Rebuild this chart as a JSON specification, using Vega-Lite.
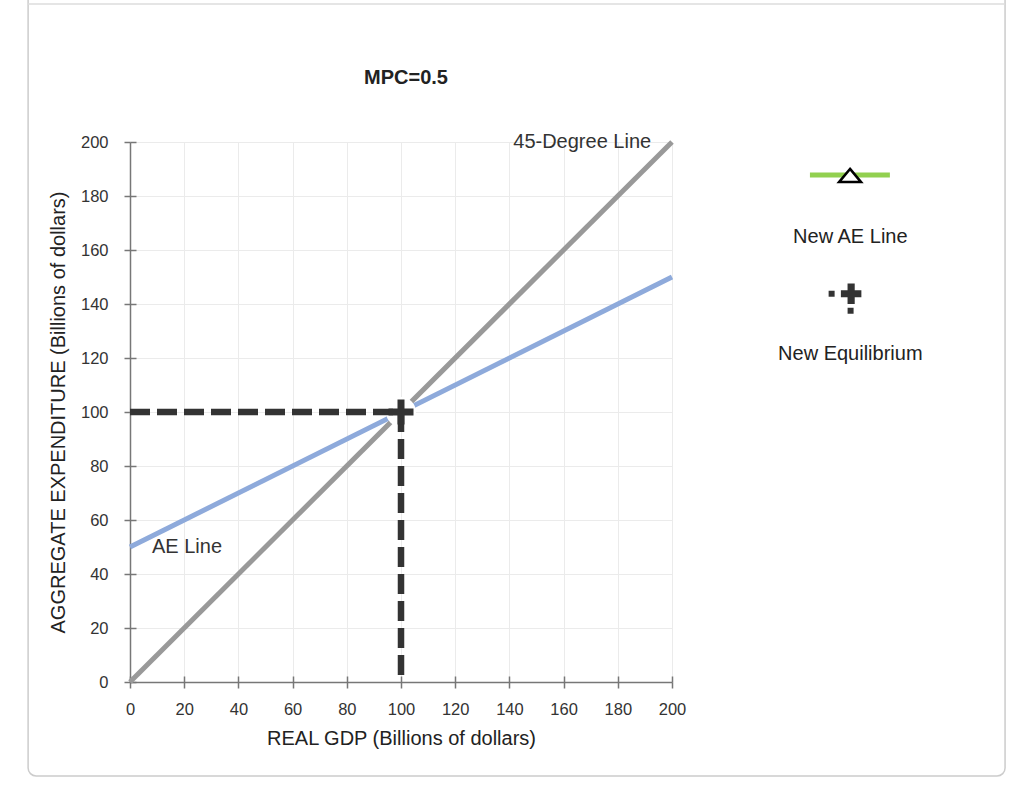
{
  "$schema": "https://vega.github.io/schema/vega-lite/v6.json",
  "width": 542,
  "height": 540,
  "autosize": {"type": "none"},
  "padding": {"left": 130, "top": 142, "right": 352, "bottom": 105},
  "background": "white",
  "title": {"text": "MPC=0.5", "font": "Liberation Sans", "fontSize": 20, "fontWeight": "bold", "color": "#222222", "offset": -98, "dx": 5, "frame": "group"},
  "config": {"view": {"stroke": null}, "font": "Liberation Sans"},
  "data": {"values": [{}]},
  "datasets": {
    "lines": [
      {"series": "45-Degree Line", "gdp": 0, "ae": 0},
      {"series": "45-Degree Line", "gdp": 200, "ae": 200},
      {"series": "AE Line", "gdp": 0, "ae": 50},
      {"series": "AE Line", "gdp": 200, "ae": 150},
      {"series": "Equilibrium expenditure", "gdp": 0, "ae": 100},
      {"series": "Equilibrium expenditure", "gdp": 100, "ae": 100},
      {"series": "Equilibrium GDP", "gdp": 100, "ae": 100},
      {"series": "Equilibrium GDP", "gdp": 100, "ae": 0}
    ],
    "equilibrium": [{"gdp": 100, "ae": 100}]
  },
  "layer": [
    {
      "layer": [
        {
          "mark": {"type": "rect", "filled": false, "stroke": "#cccccc", "strokeWidth": 1.5, "cornerRadius": 8, "clip": false},
          "encoding": {
            "x": {"datum": -37.6, "type": "quantitative", "scale": {"domain": [0, 200], "nice": false, "zero": false}},
            "x2": {"datum": 322.9},
            "y": {"datum": 256, "type": "quantitative", "scale": {"domain": [0, 200], "nice": false, "zero": false}},
            "y2": {"datum": -34.8}
          }
        },
        {
          "mark": {"type": "rule", "stroke": "#dddddd", "strokeWidth": 1.5, "clip": false},
          "encoding": {
            "x": {"datum": -37.6, "type": "quantitative", "scale": {"domain": [0, 200], "nice": false, "zero": false}},
            "x2": {"datum": 322.9},
            "y": {"datum": 251.1, "type": "quantitative", "scale": {"domain": [0, 200], "nice": false, "zero": false}}
          }
        },
        {
          "data": {"name": "lines"},
          "transform": [{"filter": "datum.series === '45-Degree Line' || datum.series === 'AE Line'"}],
          "mark": {"type": "line", "strokeWidth": 5, "strokeCap": "butt"},
          "encoding": {
            "x": {
              "field": "gdp", "type": "quantitative",
              "scale": {"domain": [0, 200], "nice": false, "zero": false},
              "axis": {
                "values": [0, 20, 40, 60, 80, 100, 120, 140, 160, 180, 200],
                "title": "REAL GDP (Billions of dollars)",
                "titleFont": "Liberation Sans", "titleFontSize": 20, "titleFontWeight": "normal", "titleColor": "#222222", "titlePadding": 11,
                "labelFont": "Liberation Sans", "labelFontSize": 16.5, "labelColor": "#333333", "labelPadding": 13,
                "labelFlush": false, "labelOverlap": false,
                "tickSize": 6, "tickColor": "#777777", "tickWidth": 1.5,
                "domainColor": "#777777", "domainWidth": 1.5,
                "grid": true, "gridColor": "#ebebeb", "gridWidth": 1
              }
            },
            "y": {
              "field": "ae", "type": "quantitative",
              "scale": {"domain": [0, 200], "nice": false, "zero": false},
              "axis": {
                "values": [0, 20, 40, 60, 80, 100, 120, 140, 160, 180, 200],
                "title": "AGGREGATE EXPENDITURE (Billions of dollars)",
                "titleFont": "Liberation Sans", "titleFontSize": 20, "titleFontWeight": "normal", "titleColor": "#222222", "titlePadding": 12,
                "labelFont": "Liberation Sans", "labelFontSize": 16.5, "labelColor": "#333333", "labelPadding": 16,
                "labelFlush": false, "labelOverlap": false,
                "tickSize": 6, "tickColor": "#777777", "tickWidth": 1.5,
                "domainColor": "#777777", "domainWidth": 1.5,
                "grid": true, "gridColor": "#ebebeb", "gridWidth": 1
              }
            },
            "color": {"field": "series", "type": "nominal", "scale": {"domain": ["45-Degree Line", "AE Line"], "range": ["#999999", "#8eaadb"]}, "legend": null},
            "order": {"value": null}
          }
        },
        {
          "data": {"name": "equilibrium"},
          "mark": {"type": "point", "shape": "circle", "filled": true, "color": "white", "opacity": 1, "size": 900, "strokeWidth": 0},
          "encoding": {
            "x": {"field": "gdp", "type": "quantitative", "scale": {"domain": [0, 200], "nice": false, "zero": false}},
            "y": {"field": "ae", "type": "quantitative", "scale": {"domain": [0, 200], "nice": false, "zero": false}}
          }
        },
        {
          "data": {"name": "lines"},
          "transform": [{"filter": "datum.series === 'Equilibrium expenditure' || datum.series === 'Equilibrium GDP'"}],
          "mark": {"type": "line", "strokeWidth": 6.5, "strokeDash": [20, 7], "strokeCap": "butt", "color": "#333333"},
          "encoding": {
            "x": {"field": "gdp", "type": "quantitative", "scale": {"domain": [0, 200], "nice": false, "zero": false}},
            "y": {"field": "ae", "type": "quantitative", "scale": {"domain": [0, 200], "nice": false, "zero": false}},
            "detail": {"field": "series", "type": "nominal"},
            "order": {"value": null}
          }
        },
        {
          "data": {"name": "equilibrium"},
          "mark": {"type": "point", "shape": "M-0.28,-1H0.28V-0.28H1V0.28H0.28V1H-0.28V0.28H-1V-0.28H-0.28Z", "filled": true, "color": "#333333", "opacity": 1, "size": 625, "strokeWidth": 0},
          "encoding": {
            "x": {"field": "gdp", "type": "quantitative", "scale": {"domain": [0, 200], "nice": false, "zero": false}},
            "y": {"field": "ae", "type": "quantitative", "scale": {"domain": [0, 200], "nice": false, "zero": false}}
          }
        },
        {
          "mark": {"type": "text", "text": "45-Degree Line", "align": "right", "baseline": "middle", "fontSize": 20, "color": "#333333", "font": "Liberation Sans"},
          "encoding": {
            "x": {"datum": 192.3, "type": "quantitative", "scale": {"domain": [0, 200], "nice": false, "zero": false}},
            "y": {"datum": 200, "type": "quantitative", "scale": {"domain": [0, 200], "nice": false, "zero": false}}
          }
        },
        {
          "mark": {"type": "text", "text": "AE Line", "align": "left", "baseline": "middle", "fontSize": 20, "color": "#333333", "font": "Liberation Sans"},
          "encoding": {
            "x": {"datum": 8.1, "type": "quantitative", "scale": {"domain": [0, 200], "nice": false, "zero": false}},
            "y": {"datum": 50, "type": "quantitative", "scale": {"domain": [0, 200], "nice": false, "zero": false}}
          }
        },
        {
          "mark": {"type": "rule", "stroke": "#92d050", "strokeWidth": 5, "clip": false},
          "encoding": {
            "x": {"datum": 250.9, "type": "quantitative", "scale": {"domain": [0, 200], "nice": false, "zero": false}},
            "x2": {"datum": 280.4},
            "y": {"datum": 187.8, "type": "quantitative", "scale": {"domain": [0, 200], "nice": false, "zero": false}}
          }
        },
        {
          "mark": {"type": "point", "shape": "M0,-0.6L1,0.6L-1,0.6Z", "fill": "white", "stroke": "black", "strokeWidth": 2.5, "opacity": 1, "size": 484, "clip": false},
          "encoding": {
            "x": {"datum": 265.7, "type": "quantitative", "scale": {"domain": [0, 200], "nice": false, "zero": false}},
            "y": {"datum": 187.6, "type": "quantitative", "scale": {"domain": [0, 200], "nice": false, "zero": false}}
          }
        },
        {
          "mark": {"type": "text", "text": "New AE Line", "align": "center", "baseline": "middle", "fontSize": 20, "color": "#222222", "font": "Liberation Sans", "clip": false},
          "encoding": {
            "x": {"datum": 265.8, "type": "quantitative", "scale": {"domain": [0, 200], "nice": false, "zero": false}},
            "y": {"datum": 164.8, "type": "quantitative", "scale": {"domain": [0, 200], "nice": false, "zero": false}}
          }
        },
        {
          "mark": {"type": "point", "shape": "M-0.35,-1H0.35V-0.35H1V0.35H0.35V1H-0.35V0.35H-1V-0.35H-0.35Z", "filled": true, "color": "#333333", "opacity": 1, "size": 420, "strokeWidth": 0, "clip": false},
          "encoding": {
            "x": {"datum": 266.1, "type": "quantitative", "scale": {"domain": [0, 200], "nice": false, "zero": false}},
            "y": {"datum": 143.8, "type": "quantitative", "scale": {"domain": [0, 200], "nice": false, "zero": false}}
          }
        },
        {
          "mark": {"type": "point", "shape": "square", "filled": true, "color": "#333333", "opacity": 1, "size": 36, "strokeWidth": 0, "clip": false},
          "encoding": {
            "x": {"datum": 258.9, "type": "quantitative", "scale": {"domain": [0, 200], "nice": false, "zero": false}},
            "y": {"datum": 143.8, "type": "quantitative", "scale": {"domain": [0, 200], "nice": false, "zero": false}}
          }
        },
        {
          "mark": {"type": "point", "shape": "square", "filled": true, "color": "#333333", "opacity": 1, "size": 36, "strokeWidth": 0, "clip": false},
          "encoding": {
            "x": {"datum": 265.9, "type": "quantitative", "scale": {"domain": [0, 200], "nice": false, "zero": false}},
            "y": {"datum": 137.5, "type": "quantitative", "scale": {"domain": [0, 200], "nice": false, "zero": false}}
          }
        },
        {
          "mark": {"type": "text", "text": "New Equilibrium", "align": "center", "baseline": "middle", "fontSize": 20, "color": "#222222", "font": "Liberation Sans", "clip": false},
          "encoding": {
            "x": {"datum": 265.8, "type": "quantitative", "scale": {"domain": [0, 200], "nice": false, "zero": false}},
            "y": {"datum": 121.5, "type": "quantitative", "scale": {"domain": [0, 200], "nice": false, "zero": false}}
          }
        }
      ]
    },
    {
      "data": {"name": "equilibrium"},
      "mark": {"type": "point", "opacity": 0},
      "encoding": {
        "x": {
          "field": "gdp", "type": "quantitative",
          "scale": {"domain": [0, 200], "nice": false, "zero": false},
          "axis": {"orient": "bottom", "values": [0, 20, 40, 60, 80, 100, 120, 140, 160, 180, 200], "labels": false, "domain": false, "grid": false, "title": null, "tickSize": -6, "tickColor": "#777777", "tickWidth": 1.5}
        },
        "y": {
          "field": "ae", "type": "quantitative",
          "scale": {"domain": [0, 200], "nice": false, "zero": false},
          "axis": {"orient": "left", "values": [0, 20, 40, 60, 80, 100, 120, 140, 160, 180, 200], "labels": false, "domain": false, "grid": false, "title": null, "tickSize": -6, "tickColor": "#777777", "tickWidth": 1.5}
        }
      }
    }
  ],
  "resolve": {"axis": {"x": "independent", "y": "independent"}}
}
